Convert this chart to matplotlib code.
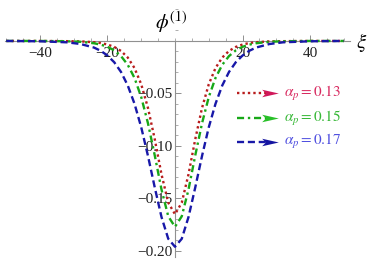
import matplotlib
matplotlib.use("Agg")
import matplotlib.pyplot as plt
from matplotlib.path import Path
from matplotlib.ticker import FixedLocator, MultipleLocator

plt.rcParams["font.family"] = ["Liberation Serif", "DejaVu Serif"]
plt.rcParams["mathtext.fontset"] = "stix"

# values
xi = [-50, -40, -32, -28, -24, -22, -20, -18, -16, -14, -12, -10, -8, -6, -4, -2, 0,
      2, 4, 6, 8, 10, 12, 14, 16, 18, 20, 22, 24, 28, 32, 40, 50]
phi_013 = [0, 0, -0.0002, -0.0004, -0.0012, -0.0020, -0.0034, -0.0057, -0.0095, -0.0158,
           -0.0258, -0.0413, -0.0639, -0.0936, -0.127, -0.154, -0.165,
           -0.154, -0.127, -0.0936, -0.0639, -0.0413, -0.0258, -0.0158, -0.0095, -0.0057,
           -0.0034, -0.0020, -0.0012, -0.0004, -0.0002, 0, 0]
phi_015 = [0, 0, -0.0003, -0.0008, -0.0022, -0.0035, -0.0056, -0.0090, -0.0144, -0.0227,
           -0.0352, -0.0535, -0.0785, -0.109, -0.1415, -0.167, -0.177,
           -0.167, -0.1415, -0.109, -0.0785, -0.0535, -0.0352, -0.0227, -0.0144, -0.0090,
           -0.0056, -0.0035, -0.0022, -0.0008, -0.0003, 0, 0]
phi_017 = [0, -0.0003, -0.0013, -0.0029, -0.0063, -0.0094, -0.0139, -0.0203, -0.0295, -0.0424,
           -0.0598, -0.0823, -0.1096, -0.1395, -0.1677, -0.1884, -0.196,
           -0.1884, -0.1677, -0.1395, -0.1096, -0.0823, -0.0598, -0.0424, -0.0295, -0.0203,
           -0.0139, -0.0094, -0.0063, -0.0029, -0.0013, -0.0003, 0]

labels = [r"$\alpha_p = 0.13$", r"$\alpha_p = 0.15$", r"$\alpha_p = 0.17$"]
x_ticks = [-40, -20, 20, 40]
x_tick_labels = ["\u221240", "\u221220", "20", "40"]
y_ticks = [-0.05, -0.10, -0.15, -0.20]
y_tick_labels = ["\u22120.05", "\u22120.10", "\u22120.15", "\u22120.20"]

line_colors = ["#B81C1C", "#18A818", "#1818A8"]
head_colors = ["#D0185A", "#28C028", "#1414A0"]
text_colors = ["#D82A60", "#38B838", "#5050E0"]
styles = [(0, (1.0, 1.3)), (0, (3.0, 1.6, 1.0, 1.6)), (0, (3.0, 1.6))]

fig = plt.figure(figsize=(3.71, 2.60), dpi=100)
ax = fig.add_axes([0, 0, 1, 1])
ax.set_xlim(-51.85, 58.07)
ax.set_ylim(-0.2086, 0.039)

for ys, c, ls in zip([phi_013, phi_015, phi_017], line_colors, styles):
    ax.plot(xi, ys, color=c, lw=1.7, linestyle=ls, zorder=3)

for s in ["top", "right"]:
    ax.spines[s].set_visible(False)
ax.spines["left"].set_position(("data", 0))
ax.spines["bottom"].set_position(("data", 0))
ax.spines["left"].set_bounds(-0.206, 0)
ax.spines["bottom"].set_bounds(-50.4, 51.9)
for s in ["left", "bottom"]:
    ax.spines[s].set_color("#909090")
    ax.spines[s].set_linewidth(0.8)

ax.xaxis.set_major_locator(FixedLocator(x_ticks))
ax.xaxis.set_minor_locator(MultipleLocator(5))
ax.set_xticklabels(x_tick_labels)
ax.yaxis.set_major_locator(FixedLocator(y_ticks))
ax.yaxis.set_minor_locator(MultipleLocator(0.01))
ax.set_yticklabels(y_tick_labels)
ax.tick_params(which="major", direction="in", length=4, width=0.7, color="#909090",
               labelsize=11, labelcolor="#222222")
ax.tick_params(which="minor", direction="in", length=2.2, width=0.6, color="#a0a0a0")
ax.tick_params(axis="x", which="major", pad=4.5)
ax.tick_params(axis="y", which="major", pad=1.5)

ax.text(0.462, 0.915, r"$\phi^{(1)}$", transform=ax.transAxes, fontsize=14.5,
        ha="center", va="center")
ax.text(0.975, 0.838, r"$\xi$", transform=ax.transAxes, fontsize=15,
        ha="center", va="center")

head = Path([(-1, 0.45), (1, 0), (-1, -0.45), (-0.55, 0), (-1, 0.45)],
            [Path.MOVETO, Path.LINETO, Path.LINETO, Path.LINETO, Path.CLOSEPOLY])
rows = [0.642, 0.546, 0.454]
for lab, c, hc, tc, ls, yr in zip(labels, line_colors, head_colors, text_colors, styles, rows):
    ax.plot([0.639, 0.72], [yr, yr], transform=ax.transAxes, color=c, lw=1.7,
            linestyle=ls, clip_on=False)
    ax.plot([0.728], [yr], transform=ax.transAxes, marker=head, markersize=12,
            color=hc, markeredgewidth=0, clip_on=False)
    ax.text(0.765, yr, lab, transform=ax.transAxes, fontsize=11, color=tc,
            ha="left", va="center")

fig.savefig("out.png", dpi=100)
